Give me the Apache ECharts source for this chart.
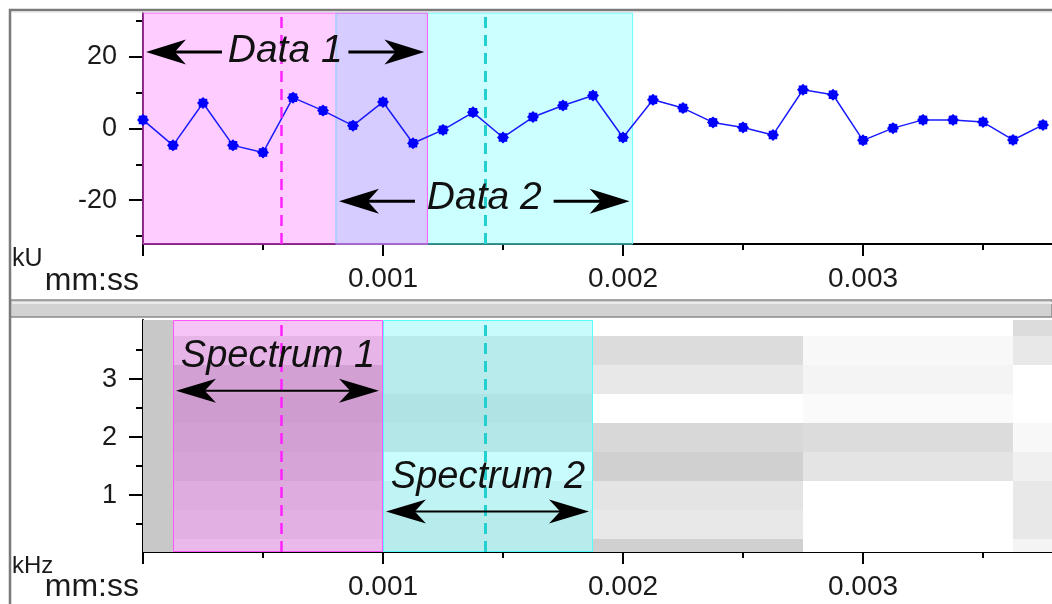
<!DOCTYPE html>
<html><head><meta charset="utf-8">
<script src="https://cdn.jsdelivr.net/npm/echarts@6/dist/echarts.min.js"></script>
<style>html,body{margin:0;padding:0;background:#fff}#c{width:1052px;height:604px}</style>
</head><body><div id="c"></div>
<script>
// ---------------- data ----------------
const sampleTimes = [0, 0.000125, 0.00025, 0.000375, 0.0005, 0.000625, 0.00075, 0.000875,
  0.001, 0.001125, 0.00125, 0.001375, 0.0015, 0.001625, 0.00175, 0.001875,
  0.002, 0.002125, 0.00225, 0.002375, 0.0025, 0.002625, 0.00275, 0.002875,
  0.003, 0.003125, 0.00325, 0.003375, 0.0035, 0.003625, 0.00375];
const signalKU = [2.4, -4.7, 7.1, -4.7, -6.7, 8.6, 5.0, 0.8,
  7.4, -4.1, -0.4, 4.5, -2.5, 3.2, 6.4, 9.2,
  -2.5, 8.0, 5.7, 1.7, 0.3, -1.8, 10.8, 9.4,
  -3.3, 0.1, 2.4, 2.4, 1.8, -3.2, 1.0];

const data1Window = [-0.000035, 0.001185];
const data2Window = [0.000804, 0.00204];
const data1Cursor = 0.000575;
const data2Cursor = 0.001428;
const spec1Window = [0.000125, 0.001];
const spec2Window = [0.001, 0.001875];

const topXTicks = [0, 0.001, 0.002, 0.003];
const topXMinorTicks = [0.0005, 0.0015, 0.0025, 0.0035];
const xTickLabels = [0.001, 0.002, 0.003];
const topYTicks = [-20, 0, 20];
const topYMinorTicks = [-30, -10, 10, 30];
const botYTicks = [1, 2, 3];
const botYMinorTicks = [0.5, 1.5, 2.5, 3.5];

// spectrogram: column time edges (s), frequency bin centres (kHz), power per column (low->high freq)
const specTimeEdges = [-0.00075, 0.000125, 0.001, 0.001875, 0.00275, 0.003625, 0.0045];
const specFreqBins = [0, 0.5, 1, 1.5, 2, 2.5, 3, 3.5, 4];
const specCol0 = [79, 79, 79, 79, 79, 79, 79, 79, 79];
const specCol1 = [36, 50, 57, 71, 79, 86, 79, 43, 14];
const specCol2 = [36, 36, 21, 4, 43, 50, 36, 36, 7];
const specCol3 = [67, 33, 39, 67, 56, 0, 33, 50, 0];
const specCol4 = [0, 0, 0, 39, 50, 7, 16, 10, 0];
const specCol5 = [16, 33, 33, 21, 10, 0, 0, 33, 50];
const specColumns = [specCol0, specCol1, specCol2, specCol3, specCol4, specCol5];

// ---------------- build ----------------
const X_MIN = 0, X_MAX = 0.0037875;
const TOP_Y = [-32.2, 32.2];
const BOT_Y = [0.02, 4.02];
const FONT = "'Liberation Sans', Arial, sans-serif";

const lineData = sampleTimes.map((t, i) => [t, signalKU[i]]);
const halfBin = (specFreqBins[1] - specFreqBins[0]) / 2;
const specData = [];
specColumns.forEach((col, c) => {
  col.forEach((v, r) => {
    specData.push([specTimeEdges[c], specTimeEdges[c + 1], specFreqBins[r] - halfBin, specFreqBins[r] + halfBin, v]);
  });
});

function starPath(n, r1, r2) {
  let d = '';
  for (let i = 0; i < 2 * n; i++) {
    const r = i % 2 ? r2 : r1;
    const a = Math.PI * i / n - Math.PI / 2;
    d += (i ? 'L' : 'M') + (r * Math.cos(a)).toFixed(3) + ',' + (r * Math.sin(a)).toFixed(3);
  }
  return 'path://' + d + 'Z';
}

function xAxisMain(grid) {
  return {
    type: 'value', gridIndex: grid, min: X_MIN, max: X_MAX, position: 'bottom',
    axisLine: { show: true, onZero: false, lineStyle: { color: '#000', width: 2 } },
    axisTick: { show: true, customValues: topXTicks, length: 12, lineStyle: { color: '#000', width: 2 } },
    axisLabel: { show: true, customValues: xTickLabels, formatter: v => Number(v).toFixed(3),
      fontSize: 28, fontFamily: FONT, color: '#1a1a1a', margin: 21 },
    splitLine: { show: false }
  };
}
function xAxisMinor(grid) {
  return {
    type: 'value', gridIndex: grid, min: X_MIN, max: X_MAX, position: 'bottom', offset: 0,
    axisLine: { show: false, onZero: false },
    axisTick: { show: true, customValues: topXMinorTicks, length: 6, lineStyle: { color: '#000', width: 2 } },
    axisLabel: { show: false }, splitLine: { show: false }
  };
}
function yAxisMain(grid, ext, ticks) {
  return {
    type: 'value', gridIndex: grid, min: ext[0], max: ext[1], position: 'left',
    axisLine: { show: true, onZero: false, lineStyle: { color: '#000', width: 2 } },
    axisTick: { show: true, customValues: ticks, length: 14, lineStyle: { color: '#000', width: 2 } },
    axisLabel: { show: true, customValues: ticks, fontSize: 27, fontFamily: FONT, color: '#1a1a1a', margin: 26 },
    splitLine: { show: false }
  };
}
function yAxisMinor(grid, ext, ticks) {
  return {
    type: 'value', gridIndex: grid, min: ext[0], max: ext[1], position: 'left', offset: 0,
    axisLine: { show: false, onZero: false },
    axisTick: { show: true, customValues: ticks, length: 7, lineStyle: { color: '#000', width: 2 } },
    axisLabel: { show: false }, splitLine: { show: false }
  };
}

const chart = echarts.init(document.getElementById('c'), null, { renderer: 'canvas' });

function cursorLines() {
  return {
    silent: true, symbol: 'none', precision: 10, label: { show: false },
    data: [
      { xAxis: data1Cursor, lineStyle: { color: '#ff22ff', type: [11, 7], width: 2.5 } },
      { xAxis: data2Cursor, lineStyle: { color: '#22d0d0', type: [11, 7], width: 3 } }
    ]
  };
}

const option = {
  animation: false,
  backgroundColor: '#fff',
  grid: [
    { left: 143, right: 0, top: 13, height: 231, containLabel: false, outerBoundsMode: 'none' },
    { left: 143, right: 0, top: 320, height: 232, containLabel: false, outerBoundsMode: 'none' }
  ],
  xAxis: [xAxisMain(0), xAxisMinor(0), xAxisMain(1), xAxisMinor(1)],
  yAxis: [yAxisMain(0, TOP_Y, topYTicks), yAxisMinor(0, TOP_Y, topYMinorTicks),
          yAxisMain(1, BOT_Y, botYTicks), yAxisMinor(1, BOT_Y, botYMinorTicks)],
  visualMap: {
    show: false, type: 'continuous', seriesIndex: 1, dimension: 4, min: 0, max: 100,
    inRange: { color: ['#ffffff', '#b9b9b9'] }
  },
  series: [
    {
      type: 'line', xAxisIndex: 0, yAxisIndex: 0, data: lineData, z: 3,
      symbol: starPath(8, 1, 0.78), symbolSize: 12, showSymbol: true,
      itemStyle: { color: '#0000ff' },
      lineStyle: { color: '#1a1aff', width: 1.5 },
      markArea: {
        silent: true, precision: 10,
        data: [
          [{ xAxis: data2Window[0], itemStyle: { color: 'rgba(0,255,255,0.2)', borderColor: '#66ffff', borderWidth: 1 } },
           { xAxis: data2Window[1] }],
          [{ xAxis: data1Window[0], itemStyle: { color: 'rgba(255,0,255,0.2)', borderColor: '#ff55ff', borderWidth: 1 } },
           { xAxis: data1Window[1] }]
        ]
      },
      markLine: cursorLines()
    },
    {
      type: 'custom', xAxisIndex: 2, yAxisIndex: 2, z: 2,
      data: specData,
      encode: { x: [0, 1], y: [2, 3] },
      renderItem: function (params, api) {
        const p0 = api.coord([api.value(0), api.value(3)]);
        const p1 = api.coord([api.value(1), api.value(2)]);
        const cs = params.coordSys;
        const x0 = Math.round(p0[0]), x1 = Math.round(p1[0]);
        const y0 = Math.round(p0[1]), y1 = Math.round(p1[1]);
        const r = echarts.graphic.clipRectByRect(
          { x: x0, y: y0, width: x1 - x0, height: y1 - y0 },
          { x: cs.x, y: cs.y, width: cs.width, height: cs.height });
        if (!r) return;
        return { type: 'rect', shape: r, style: { fill: api.visual('color') } };
      }
    },
    {
      type: 'custom', xAxisIndex: 2, yAxisIndex: 2, z: 3,
      data: [[spec1Window[0], spec1Window[1]], [spec2Window[0], spec2Window[1]]],
      encode: { x: [0, 1] },
      renderItem: function (params, api) {
        const fills = ['rgba(255,0,255,0.2)', 'rgba(0,255,255,0.2)'];
        const strokes = ['#ff55ff', '#55ffff'];
        const cs = params.coordSys;
        const a = api.coord([api.value(0), BOT_Y[1]]);
        const b = api.coord([api.value(1), BOT_Y[0]]);
        const x0 = Math.max(Math.round(a[0]), cs.x), x1 = Math.min(Math.round(b[0]), cs.x + cs.width);
        return { type: 'rect', shape: { x: x0 + 0.5, y: cs.y + 0.5, width: x1 - x0 - 1, height: cs.height - 1 },
          style: { fill: fills[params.dataIndex], stroke: strokes[params.dataIndex], lineWidth: 1 } };
      },
      markLine: cursorLines()
    }
  ]
};
chart.setOption(option);

// ---------------- annotations / frame ----------------
function px(ax, ay, x, y) { return chart.convertToPixel({ xAxisIndex: ax, yAxisIndex: ay }, [x, y]); }
const G = [];
function txt(text, x, y, font, align, fill) {
  G.push({ type: 'text', z: 100, style: { text: text, x: x, y: y, font: font, fill: fill || '#222',
    align: align, textAlign: align, verticalAlign: 'middle', textVerticalAlign: 'middle' } });
}
function head(tipX, y, dir, len, hw) {
  G.push({ type: 'polygon', z: 100, shape: { points: [
    [tipX, y], [tipX - dir * len, y - hw], [tipX - dir * len * 0.72, y], [tipX - dir * len, y + hw]] },
    style: { fill: '#000' } });
}
function shaft(xa, xb, y, w) {
  G.push({ type: 'line', z: 100, shape: { x1: xa, y1: y, x2: xb, y2: y }, style: { stroke: '#000', lineWidth: w } });
}
const AFONT = "italic 39px " + FONT;
const SFONT = "italic 38px " + FONT;

// Data annotations (split arrows around label)
function dataAnn(win, yVal, label, textDy) {
  const l = px(0, 0, Math.max(win[0], X_MIN), yVal);
  const r = px(0, 0, win[1], yVal);
  const y = l[1];
  const lt = l[0] + 3, rt = r[0] - 3;
  shaft(lt + 10, lt + 76, y, 3); head(lt, y, -1, 40, 12.5);
  shaft(rt - 76, rt - 10, y, 3); head(rt, y, 1, 40, 12.5);
  txt(label, (l[0] + r[0]) / 2, y + textDy, AFONT, 'center', '#111');
}
dataAnn(data1Window, 21.3, 'Data 1', -1);
dataAnn(data2Window, -20.3, 'Data 2', -3);

// Spectrum annotations (double arrow, label above)
function specAnn(win, fVal, label) {
  const l = px(2, 2, win[0], fVal);
  const r = px(2, 2, win[1], fVal);
  const y = l[1];
  const lt = l[0] + 3, rt = r[0] - 4;
  shaft(lt + 10, rt - 10, y, 2);
  head(lt, y, -1, 40, 12); head(rt, y, 1, 40, 12);
  txt(label, (l[0] + r[0]) / 2, y - 34, SFONT, 'center', '#111');
}
specAnn(spec1Window, 2.8, 'Spectrum 1');
specAnn(spec2Window, 0.72, 'Spectrum 2');

// axis unit labels
txt('kU', 12, 259, "25px " + FONT, 'left', '#1a1a1a');
txt('mm:ss', 139, 281, "32px " + FONT, 'right', '#1a1a1a');
txt('kHz', 12, 566, "24px " + FONT, 'left', '#1a1a1a');
txt('mm:ss', 139, 587, "32px " + FONT, 'right', '#1a1a1a');

// frame
G.push({ type: 'rect', z: 90, shape: { x: 10, y: 300, width: 1042, height: 17 }, style: { fill: '#d2d2d2', stroke: '#8a8a8a', lineWidth: 1.5 } });
G.push({ type: 'line', z: 91, shape: { x1: 12, y1: 303, x2: 1052, y2: 303 }, style: { stroke: '#ececec', lineWidth: 2 } });
G.push({ type: 'line', z: 92, shape: { x1: 9, y1: 10, x2: 1052, y2: 10 }, style: { stroke: '#7a7a7a', lineWidth: 2.5 } });
G.push({ type: 'line', z: 92, shape: { x1: 9, y1: 12, x2: 1052, y2: 12 }, style: { stroke: '#d8d8d8', lineWidth: 1 } });
G.push({ type: 'line', z: 92, shape: { x1: 10, y1: 9, x2: 10, y2: 604 }, style: { stroke: '#7a7a7a', lineWidth: 2.5 } });

chart.setOption({ graphic: { elements: G } });
</script>
</body></html>
